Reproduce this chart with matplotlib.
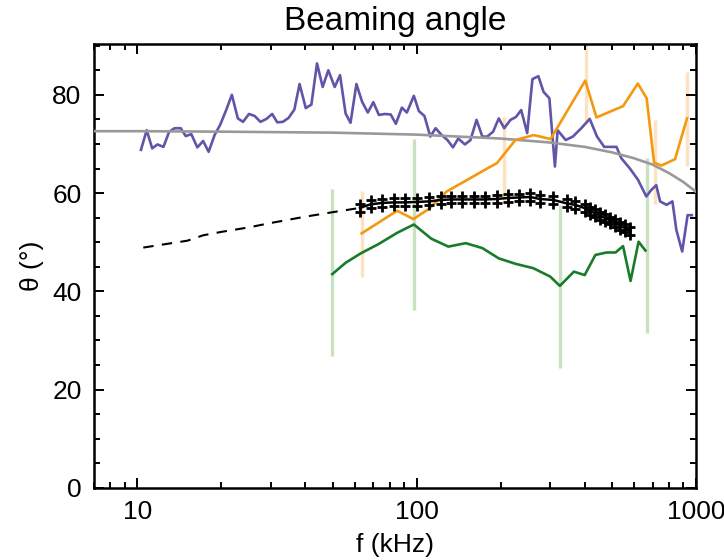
import matplotlib
matplotlib.use('Agg')
import matplotlib.pyplot as plt
import numpy as np
from matplotlib.ticker import LogLocator, MultipleLocator, NullFormatter, FixedLocator

plt.rcParams['font.family'] = ['Liberation Sans', 'DejaVu Sans']

# purple: measured angle vs frequency
f_purple = [10.3, 10.8, 11.3, 11.8, 12.4, 13.0, 13.6, 14.3, 14.9, 15.6, 16.4, 17.2, 18.0, 18.9,
            19.8, 20.8, 21.8, 22.9, 23.9, 25.1, 26.3, 27.6, 29.0, 30.4, 31.7, 33.2, 34.8, 36.5,
            38.1, 40.1, 42.0, 44.0, 46.1, 48.3, 50.9, 53.2, 55.7, 58.0, 60.9, 63.8, 66.9, 70.0,
            73.3, 77.0, 80.8, 84.3, 88.6, 92.3, 97.8, 101.9, 106.7, 112, 117, 123, 129, 135,
            141, 149, 156, 164, 172, 179, 188, 197, 206, 217, 227, 237, 249, 260, 273, 285,
            299, 313, 320, 342, 363, 389, 417, 443, 470, 520, 541, 581, 621, 665, 692, 722,
            745, 786, 825, 852, 894, 935, 968]
th_purple = [68.8, 72.8, 69.1, 69.9, 69.4, 72.5, 73.2, 73.2, 71.6, 72.0, 69.3, 70.6, 68.4, 71.8,
             73.9, 76.9, 80.0, 75.2, 74.5, 76.1, 75.7, 74.5, 75.1, 76.1, 74.4, 74.5, 75.3, 77.0,
             82.2, 77.3, 78.0, 86.4, 81.6, 85.0, 81.6, 84.0, 76.2, 74.3, 82.2, 78.6, 76.4, 78.5,
             75.9, 76.1, 76.0, 74.1, 77.4, 76.4, 79.8, 76.7, 75.7, 71.5, 73.2, 71.8, 70.8, 69.3,
             71.1, 69.9, 70.8, 74.9, 71.5, 71.5, 72.5, 75.2, 73.2, 74.9, 75.5, 76.9, 72.2, 83.2,
             83.8, 80.6, 79.3, 65.4, 72.8, 70.8, 71.5, 73.2, 75.1, 71.5, 69.4, 69.4, 67.1, 65.0,
             62.7, 59.3, 60.6, 61.6, 58.3, 57.6, 58.3, 52.5, 48.1, 55.5, 55.5]

# grey model curve
f_grey = [7, 10, 20, 50, 100, 200, 300, 400, 500, 600, 700, 800, 900, 1000]
th_grey = [72.6, 72.6, 72.5, 72.3, 71.9, 71.1, 70.3, 69.4, 68.3, 67.1, 65.8, 64.1, 62.3, 60.3]

# black dashed extrapolation and fitted curve with crosses
f_dash = [10.5, 15.1, 17.2, 20, 25, 30, 40, 50, 63]
th_dash = [48.9, 50.3, 51.4, 52.1, 53.0, 53.9, 55.2, 56.1, 57.0]
f_cross = [62.7, 68.4, 75.5, 83.0, 91.1, 100.6, 110.8, 122, 133, 146, 160, 176, 194, 213, 232,
           255, 276, 309, 345, 370, 402, 419, 436, 455, 474, 494, 515, 537, 560, 583]
th_cross = [57.0, 57.7, 58.0, 58.1, 58.1, 58.2, 58.3, 58.6, 58.7, 58.7, 58.7, 58.7, 58.8, 59.0,
            59.1, 59.2, 58.8, 58.6, 57.9, 57.6, 56.9, 56.3, 55.9, 55.3, 54.9, 54.4, 53.9, 53.3,
            52.8, 52.2]

# orange
f_orange = [63.6, 85.2, 97.4, 110.8, 128, 152, 179, 194, 226, 263, 302, 402, 441, 549, 620, 667,
            709, 753, 843, 930]
th_orange = [51.8, 56.4, 54.7, 56.8, 60.3, 62.7, 65.0, 66.1, 70.8, 71.8, 71.0, 82.9, 75.4, 77.7,
             82.3, 79.3, 66.2, 65.6, 66.9, 75.2]
f_orange_bar = [63.6, 205, 404, 716, 934]
lo_orange_bar = [43.0, 58.6, 74.5, 57.8, 65.5]
hi_orange_bar = [60.4, 75.4, 95.0, 74.9, 84.6]

# green
f_green = [49.9, 55.7, 63, 73, 85.2, 97.8, 113, 130, 150, 172, 197, 226, 262, 301, 326, 366, 400,
           437, 479, 516, 549, 584, 624, 660]
th_green = [43.5, 45.8, 47.7, 49.6, 51.9, 53.6, 50.7, 49.1, 49.8, 48.8, 46.7, 45.6, 44.7, 43.0,
            41.1, 44.0, 43.3, 47.4, 47.9, 47.9, 49.2, 42.1, 50.1, 48.3]
f_green_bar = [49.9, 97.8, 326, 667]
lo_green_bar = [26.8, 36.2, 24.4, 31.5]
hi_green_bar = [60.8, 71.0, 57.6, 67.1]

fig = plt.figure(figsize=(7.24, 5.6), dpi=100)
ax = fig.add_axes([0.130, 0.129, 0.831, 0.792])

ax.vlines(f_green_bar, lo_green_bar, hi_green_bar, color='#c8e2bf', lw=2.4, zorder=1)
ax.vlines(f_orange_bar, lo_orange_bar, hi_orange_bar, color='#fde1c0', lw=2.4, zorder=1)

ax.plot(f_purple, th_purple, color='#5f56a9', lw=1.9, zorder=3)
ax.plot(f_grey, th_grey, color='#999999', lw=1.9, zorder=3)
ax.plot(f_orange, th_orange, color='#f4990f', lw=1.9, zorder=3)
ax.plot(f_green, th_green, color='#187c2a', lw=1.9, zorder=3)
ax.plot(f_dash, th_dash, color='black', lw=1.5, ls=(0, (5, 4)), zorder=4)
ax.plot(f_cross, th_cross, color='black', lw=1.8, zorder=4)
th_c = np.array(th_cross)
ax.plot(f_cross, th_c + 0.8, ls='none', marker='+', ms=6.5, mew=2, color='black', zorder=5)
ax.plot(f_cross, th_c - 0.8, ls='none', marker='+', ms=6.5, mew=2, color='black', zorder=5)

ax.set_xscale('log')
ax.set_xlim(7, 1000)
ax.set_ylim(0, 90.3)
ax.xaxis.set_major_locator(FixedLocator([10, 100, 1000]))
ax.xaxis.set_minor_locator(LogLocator(base=10, subs=np.arange(2, 10)))
ax.xaxis.set_minor_formatter(NullFormatter())
ax.set_xticklabels(['10', '100', '1000'])
ax.yaxis.set_major_locator(MultipleLocator(20))
ax.yaxis.set_minor_locator(MultipleLocator(5))

for s in ax.spines.values():
    s.set_linewidth(1.8)
ax.tick_params(which='both', direction='in', top=True, right=True, labelsize=19, width=1.4)
ax.tick_params(which='major', length=7.5, pad=9)
ax.tick_params(which='minor', length=4)

ax.set_title('Beaming angle', fontsize=24, pad=10)
ax.set_xlabel('f (kHz)', fontsize=19, labelpad=6)
ax.set_ylabel('θ (°)', fontsize=19, labelpad=6)

fig.savefig('out.png', dpi=100)
